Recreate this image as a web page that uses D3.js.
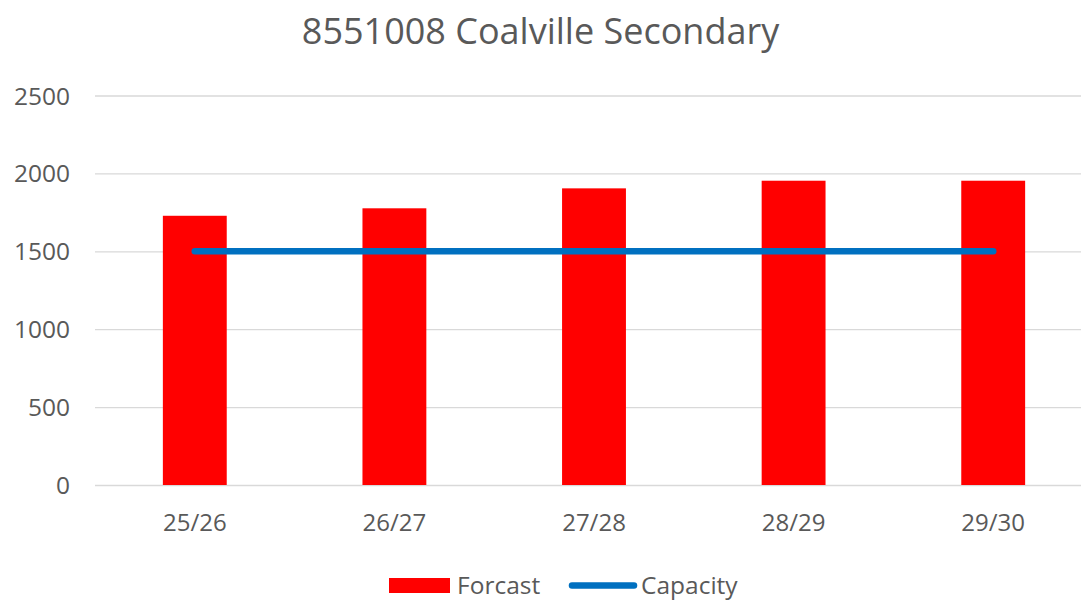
<!DOCTYPE html>
<html>
<head>
<meta charset="utf-8">
<script src="https://cdn.jsdelivr.net/npm/d3@7"></script>
<style>
  html, body { margin: 0; padding: 0; background: #fff; }
  svg { display: block; overflow: hidden; }
  text { font-family: "Open Sans", "Liberation Sans", sans-serif; fill: #595959; }
</style>
</head>
<body>
<svg id="chart" width="1081" height="600"></svg>
<script>
const title = "8551008 Coalville Secondary";
const categories = ["25/26", "26/27", "27/28", "28/29", "29/30"];
const forecast = [1728, 1776, 1904, 1953, 1953];
const capacity = [1500, 1500, 1500, 1500, 1500];
const yTicks = [0, 500, 1000, 1500, 2000, 2500];
const seriesNames = ["Forcast", "Capacity"];

const FONT = "'Open Sans', sans-serif";
const svg = d3.select("#chart");
const mLeft = 95, mRight = 1093, mTop = 95.5, mBottom = 485;

const x = d3.scaleBand().domain(categories).range([mLeft, mRight]).paddingInner(0.68).paddingOuter(0.34);
const y = d3.scaleLinear().domain([0, 2500]).range([mBottom, mTop]);

// title
svg.append("text").attr("x", 540.5).attr("y", 43.5).attr("text-anchor", "middle")
  .style("font-size", "36px").text(title);

// gridlines + y axis
const yAxis = d3.axisLeft(y).tickValues(yTicks).tickFormat(d3.format("d"))
  .tickSize(-(mRight - mLeft)).tickPadding(25);
const gy = svg.append("g").attr("transform", `translate(${mLeft},0)`).call(yAxis);
gy.select(".domain").remove();
gy.selectAll(".tick line").attr("stroke", "#d9d9d9").attr("stroke-width", 1.3);
gy.selectAll(".tick text").style("font-size", "24.5px").attr("fill", "#595959").attr("dy", "0.35em").style("font-family", FONT);

// bars
svg.append("g").selectAll("rect").data(categories).join("rect")
  .attr("x", d => x(d)).attr("width", x.bandwidth())
  .attr("y", (d, i) => y(forecast[i])).attr("height", (d, i) => y(0) - y(forecast[i]))
  .attr("fill", "#ff0000");

// x axis labels
const xAxis = d3.axisBottom(x).tickSize(0).tickPadding(20);
const gx = svg.append("g").attr("transform", `translate(0,${mBottom})`).call(xAxis);
gx.select(".domain").remove();
gx.selectAll(".tick text").style("font-size", "24px").attr("fill", "#595959").attr("dy", "0").attr("y", 46).style("font-family", FONT);

// capacity line
const line = d3.line().x((d, i) => x(categories[i]) + x.bandwidth() / 2).y(d => y(d));
svg.append("path").datum(capacity).attr("d", line)
  .attr("fill", "none").attr("stroke", "#0070c0").attr("stroke-width", 6.5).attr("stroke-linecap", "round");

// legend
const lg = svg.append("g");
lg.append("rect").attr("x", 389).attr("y", 578).attr("width", 61).attr("height", 15).attr("fill", "#ff0000");
lg.append("text").attr("x", 457).attr("y", 594).style("font-size", "24.5px").text(seriesNames[0]);
lg.append("line").attr("x1", 572).attr("x2", 634).attr("y1", 585.5).attr("y2", 585.5)
  .attr("stroke", "#0070c0").attr("stroke-width", 6.5).attr("stroke-linecap", "round");
lg.append("text").attr("x", 641).attr("y", 594).style("font-size", "24.5px").text(seriesNames[1]);
</script>
</body>
</html>
